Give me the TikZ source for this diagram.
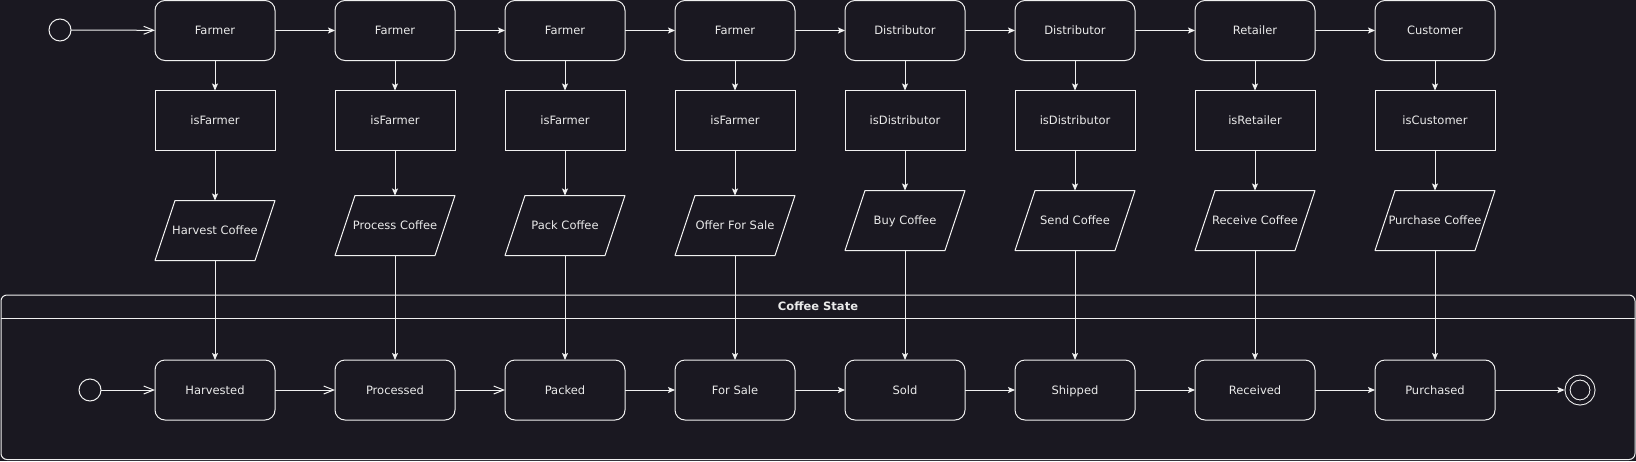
\documentclass[tikz,border=0pt]{standalone}
\usepackage{fontspec}
\setmainfont{DejaVu Sans}
\usepackage{xcolor}
\usepackage{tikz}
\usetikzlibrary{arrows.meta,positioning}

\definecolor{bg}{HTML}{1A1821}
\definecolor{fg}{HTML}{F0F0F0}
\definecolor{txt}{HTML}{EAEAEA}
\newcommand{\lblfont}{\fontsize{11.5}{13.5}\selectfont}

\begin{document}
\begin{tikzpicture}[x=1pt, y=1pt, node distance=50pt,
        actorbox/.style={rectangle, draw=fg, line width=1pt, rounded corners=10pt, minimum width=120pt, minimum height=60pt, inner sep=0pt, outer sep=0pt, text=txt, font=\lblfont, text height=9.7pt, text depth=1.3pt},
        checkbox/.style={rectangle, draw=fg, line width=1pt, minimum width=120pt, minimum height=60pt, inner sep=0pt, outer sep=0pt, text=txt, font=\lblfont, text height=9.7pt, text depth=1.3pt},
        actionbox/.style={rectangle, minimum width=120pt, minimum height=60pt, inner sep=0pt, outer sep=0pt, text=txt, font=\lblfont, text height=9.7pt, text depth=1.3pt,
            append after command={\pgfextra{\draw[draw=fg, line width=1pt, line join=round] ([xshift=20pt]\tikzlastnode.north west) -- (\tikzlastnode.north east) -- ([xshift=-20pt]\tikzlastnode.south east) -- (\tikzlastnode.south west) -- cycle;}}},
        statebox/.style={actorbox},
        startdot/.style={circle, draw=fg, line width=1pt, minimum size=22pt, inner sep=0pt, outer sep=0pt},
        enddot/.style={circle, draw=fg, line width=1pt, double=bg, double distance=4pt, minimum size=25pt, inner sep=0pt, outer sep=3pt},
        groupframe/.style={rectangle, draw=fg, line width=1pt, rounded corners=6pt, minimum width=1634pt, minimum height=164.5pt, inner sep=0pt, outer sep=0pt},
        grouptitle/.style={rectangle, minimum height=23pt, inner sep=0pt, outer sep=0pt, text=txt, font=\lblfont\bfseries},
        arrow/.style={-{Stealth[length=7pt, width=6pt, inset=1.5pt]}, draw=fg, line width=1pt},
        openarrow/.style={-{Straight Barb[length=10pt, width=8pt]}, draw=fg, line width=1pt}]

        \fill[bg] (0,0) rectangle (1636,-461);
        \useasboundingbox (0,0) rectangle (1636,-461);

        % Coffee State group
        \node[groupframe] (cs) at (818,-377.25) {};
        \node[grouptitle, below=0pt of cs.north] (cst) {Coffee State};
        \draw[draw=fg, line width=1pt] (cs.west |- cst.south) -- (cs.east |- cst.south);

        % Actors
        \node[startdot] (i0) at (60,-30) {};
        \node[actorbox] (f1) at (215,-30.5) {Farmer};
        \node[actorbox, right=60pt of f1] (f2) {Farmer};
        \node[actorbox, right=of f2] (f3) {Farmer};
        \node[actorbox, right=of f3] (f4) {Farmer};
        \node[actorbox, right=of f4] (f5) {Distributor};
        \node[actorbox, right=of f5] (f6) {Distributor};
        \node[actorbox, right=60pt of f6] (f7) {Retailer};
        \node[actorbox, right=60pt of f7] (f8) {Customer};

        % Role checks
        \node[checkbox, below=30pt of f1] (c1) {isFarmer};
        \node[checkbox, below=30pt of f2] (c2) {isFarmer};
        \node[checkbox, below=30pt of f3] (c3) {isFarmer};
        \node[checkbox, below=30pt of f4] (c4) {isFarmer};
        \node[checkbox, below=30pt of f5] (c5) {isDistributor};
        \node[checkbox, below=30pt of f6] (c6) {isDistributor};
        \node[checkbox, below=30pt of f7] (c7) {isRetailer};
        \node[checkbox, below=30pt of f8] (c8) {isCustomer};

        % Actions
        \node[actionbox, below=50pt of c1] (a1) {Harvest Coffee};
        \node[actionbox, below=45pt of c2] (a2) {Process Coffee};
        \node[actionbox, below=45pt of c3] (a3) {Pack Coffee};
        \node[actionbox, below=45pt of c4] (a4) {Offer For Sale};
        \node[actionbox, below=40pt of c5] (a5) {Buy Coffee};
        \node[actionbox, below=40pt of c6] (a6) {Send Coffee};
        \node[actionbox, below=40pt of c7] (a7) {Receive Coffee};
        \node[actionbox, below=40pt of c8] (a8) {Purchase Coffee};

        % States
        \node[startdot] (i1) at (90,-390) {};
        \node[statebox] (s1) at (215,-390) {Harvested};
        \node[statebox, right=60pt of s1] (s2) {Processed};
        \node[statebox, right=of s2] (s3) {Packed};
        \node[statebox, right=of s3] (s4) {For Sale};
        \node[statebox, right=of s4] (s5) {Sold};
        \node[statebox, right=of s5] (s6) {Shipped};
        \node[statebox, right=60pt of s6] (s7) {Received};
        \node[statebox, right=60pt of s7] (s8) {Purchased};
        \node[enddot] (fin) at (1580,-390) {};

        % Connections
        \draw[openarrow] (i0) -- (f1);
        \draw[arrow] (f1) -- (f2);
        \draw[arrow] (f2) -- (f3);
        \draw[arrow] (f3) -- (f4);
        \draw[arrow] (f4) -- (f5);
        \draw[arrow] (f5) -- (f6);
        \draw[arrow] (f6) -- (f7);
        \draw[arrow] (f7) -- (f8);
        \draw[arrow] (f1) -- (c1);
        \draw[arrow] (f2) -- (c2);
        \draw[arrow] (f3) -- (c3);
        \draw[arrow] (f4) -- (c4);
        \draw[arrow] (f5) -- (c5);
        \draw[arrow] (f6) -- (c6);
        \draw[arrow] (f7) -- (c7);
        \draw[arrow] (f8) -- (c8);
        \draw[arrow] (c1) -- (a1);
        \draw[arrow] (c2) -- (a2);
        \draw[arrow] (c3) -- (a3);
        \draw[arrow] (c4) -- (a4);
        \draw[arrow] (c5) -- (a5);
        \draw[arrow] (c6) -- (a6);
        \draw[arrow] (c7) -- (a7);
        \draw[arrow] (c8) -- (a8);
        \draw[arrow] (a1) -- (s1);
        \draw[arrow] (a2) -- (s2);
        \draw[arrow] (a3) -- (s3);
        \draw[arrow] (a4) -- (s4);
        \draw[arrow] (a5) -- (s5);
        \draw[arrow] (a6) -- (s6);
        \draw[arrow] (a7) -- (s7);
        \draw[arrow] (a8) -- (s8);
        \draw[openarrow] (i1) -- (s1);
        \draw[openarrow] (s1) -- (s2);
        \draw[openarrow] (s2) -- (s3);
        \draw[arrow] (s3) -- (s4);
        \draw[arrow] (s4) -- (s5);
        \draw[arrow] (s5) -- (s6);
        \draw[arrow] (s6) -- (s7);
        \draw[arrow] (s7) -- (s8);
        \draw[arrow] (s8) -- (fin);
    \end{tikzpicture}
\end{document}
